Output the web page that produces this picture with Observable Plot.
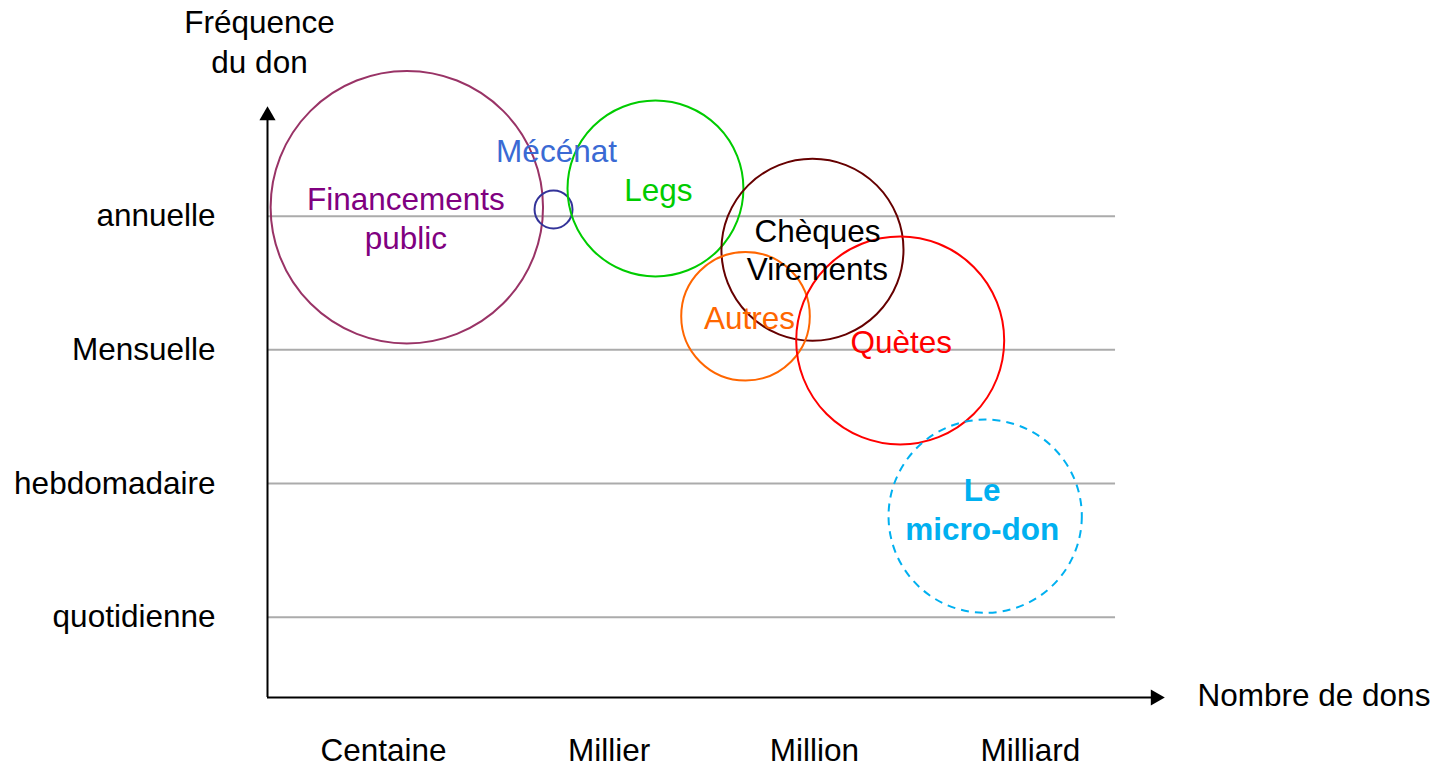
<!DOCTYPE html>
<html>
<head>
<meta charset="utf-8">
<script src="https://cdn.jsdelivr.net/npm/d3@7"></script>
<script src="https://cdn.jsdelivr.net/npm/@observablehq/plot@0.6"></script>
<style>
  html, body { margin: 0; padding: 0; background: #ffffff; }
  #chart svg { display: block; }
</style>
</head>
<body>
<div id="chart"></div>
<script>
// ---- Data ----
const channels = ["Financements public", "Mécénat", "Legs", "Chèques Virements", "Autres", "Quètes", "Le micro-don"];
const labels = ["Financements\npublic", "Mécénat", "Legs", "Chèques\nVirements", "Autres", "Quètes", "Le\nmicro-don"];
// position along "Nombre de dons" (arbitrary 0–10 units)
const donationVolume = [1.569, 3.221, 4.369, 6.137, 5.383, 7.125, 8.082];
// position along "Fréquence du don" (1 = quotidienne … 4 = annuelle)
const donationFrequency = [4.067, 4.050, 4.207, 3.749, 3.251, 3.070, 1.755];
// bubble radius, in frequency units
const bubbleSize = [1.019, 0.142, 0.658, 0.681, 0.481, 0.778, 0.723];

const frequencyValues = [1, 2, 3, 4];
const frequencyLabels = ["quotidienne", "hebdomadaire", "Mensuelle", "annuelle"];
const volumeValues = [1.306, 3.846, 6.160, 8.592];
const volumeLabels = ["Centaine", "Millier", "Million", "Milliard"];

// ---- Styles ----
const styles = {
  "Financements public": {stroke: "#993366", text: "#800080", dx: -1, dy: 10},
  "Mécénat": {stroke: "#333399", text: "#3A6AD4", dx: 3, dy: -60},
  "Legs": {stroke: "#00CC00", text: "#00CC00", dx: 3, dy: 0},
  "Chèques Virements": {stroke: "#660000", text: "#000000", dx: 5, dy: -1},
  "Autres": {stroke: "#FF6600", text: "#FF6600", dx: 4, dy: 0},
  "Quètes": {stroke: "#FF0000", text: "#FF0000", dx: 1, dy: 0},
  "Le micro-don": {stroke: "#00B0F0", text: "#00B0F0", dx: -3, dy: -8, dash: "8,6", bold: true}
};

const W = 1437, H = 767;
const M = {top: 115, right: 282, bottom: 70, left: 267};
const xDomain = [0, 10];
const yDomain = [0.399, 4.753];
const gridEnd = 9.55;
const yUnit = (H - M.top - M.bottom) / (yDomain[1] - yDomain[0]);
const FONT = "'Liberation Sans', Arial, Helvetica, sans-serif";
const FS = 31.5;

const rows = channels.map((name, i) => ({
  name, label: labels[i], x: donationVolume[i], y: donationFrequency[i], r: bubbleSize[i]
}));
const freqRows = frequencyValues.map((v, i) => ({v, label: frequencyLabels[i]}));
const volRows = volumeValues.map((v, i) => ({v, label: volumeLabels[i]}));

const bubbleMarks = rows.map(d => Plot.dot([d], {
  x: "x", y: "y", r: "r",
  stroke: styles[d.name].stroke, fill: "none", strokeWidth: 2,
  strokeDasharray: styles[d.name].dash
}));
const labelMarks = rows.map(d => Plot.text([d], {
  x: "x", y: "y", text: "label",
  fill: styles[d.name].text, fontSize: FS, lineHeight: 1.23,
  fontWeight: styles[d.name].bold ? "bold" : "normal",
  textAnchor: "middle", lineAnchor: "middle",
  dx: styles[d.name].dx, dy: styles[d.name].dy
}));

const chart = Plot.plot({
  width: W, height: H,
  marginTop: M.top, marginRight: M.right, marginBottom: M.bottom, marginLeft: M.left,
  x: {domain: xDomain, axis: null},
  y: {domain: yDomain, axis: null},
  r: {type: "linear", domain: [0, 1], range: [0, yUnit]},
  style: {fontFamily: FONT, fontSize: FS + "px", background: "#ffffff", color: "#000000", overflow: "visible"},
  marks: [
    // gridlines
    Plot.ruleY(freqRows, {y: "v", x1: 0, x2: gridEnd, stroke: "#ABABAB", strokeWidth: 2}),
    // axes lines
    Plot.ruleX([0], {y1: yDomain[0], y2: yDomain[1], stroke: "#000000", strokeWidth: 2}),
    Plot.ruleY([yDomain[0]], {x1: xDomain[0], x2: xDomain[1], stroke: "#000000", strokeWidth: 2}),
    // arrowheads
    Plot.dot([0], {frameAnchor: "top-left", symbol: "triangle", r: 6, fill: "#000000", stroke: "none"}),
    Plot.dot([0], {frameAnchor: "bottom-right", symbol: "triangle", r: 6, fill: "#000000", stroke: "none", rotate: 90}),
    // y tick labels
    Plot.text(freqRows, {y: "v", text: "label", frameAnchor: "left", textAnchor: "end", lineAnchor: "middle", dx: -52, fontSize: FS, fill: "#000000"}),
    // x tick labels
    Plot.text(volRows, {x: "v", text: "label", frameAnchor: "bottom", textAnchor: "middle", lineAnchor: "middle", dy: 53, fontSize: FS, fill: "#000000"}),
    // axis titles
    Plot.text(["Fréquence\ndu don"], {text: d => d, frameAnchor: "top-left", textAnchor: "middle", lineAnchor: "middle", lineHeight: 1.24, dx: -8, dy: -75, fontSize: FS, fill: "#000000"}),
    Plot.text(["Nombre de dons"], {text: d => d, frameAnchor: "bottom-right", textAnchor: "start", lineAnchor: "middle", dx: 42, dy: -2, fontSize: FS, fill: "#000000"}),
    ...bubbleMarks,
    ...labelMarks
  ]
});
document.getElementById("chart").appendChild(chart);
</script>
</body>
</html>
